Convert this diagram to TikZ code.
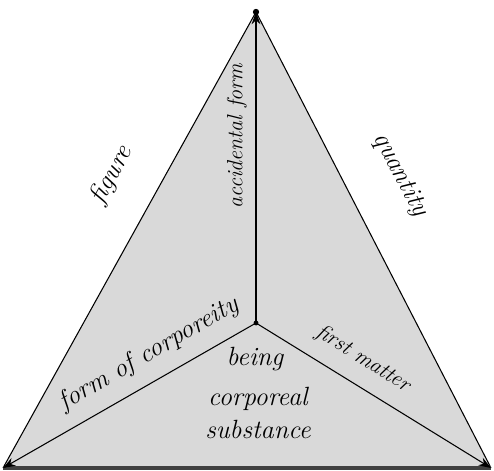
\documentclass[tikz,border=0pt]{standalone}
\usetikzlibrary{arrows.meta}

\begin{document}
\begin{tikzpicture}[
  arr/.style={-{Stealth[length=7pt,width=5pt]}, semithick},
  lbl/.style={font=\fontsize{15}{19}\selectfont\itshape, align=center, inner sep=1pt},
  small/.style={font=\fontsize{12.5}{15}\selectfont\itshape},
]
\useasboundingbox (0,0) rectangle (9.88,9.42);
% Ecken und Mittelpunkt
\coordinate (top)   at (5.12,9.18);
\coordinate (left)  at (0.06,0.06);
\coordinate (right) at (9.82,0.06);
\coordinate (mid)   at (5.12,2.96);
% Dreieck
\fill[gray!30] (left) -- (top) -- (right) -- cycle;
\draw[semithick] (left) -- (top) -- (right);
\draw[line width=2.5pt, black!75] (left) -- (right);
% Pfeile vom Mittelpunkt
\draw[arr] (mid) -- (top);
\draw[arr] (mid) -- (left);
\draw[arr] (mid) -- (right);
\fill (top) circle (1.8pt);
\fill (mid) circle (1.4pt);
% Beschriftungen
\node[lbl, rotate=61]         (figure)    at (2.24,5.92) {figure};
\node[lbl, rotate=-62]        (quantity)  at (8.00,5.92) {quantity};
\node[lbl, small, rotate=90]  (accform)   at (4.74,6.70) {accidental form};
\node[lbl, rotate=30]         (corpform)  at (2.98,2.34) {form of corporeity};
\node[lbl, small, rotate=-32] (firstmat)  at (7.26,2.24) {first matter};
\node[lbl]                    (being)     at (5.10,2.24) {being};
\node[lbl]                    (substance) at (5.16,1.16) {corporeal\\substance};
\end{tikzpicture}
\end{document}
